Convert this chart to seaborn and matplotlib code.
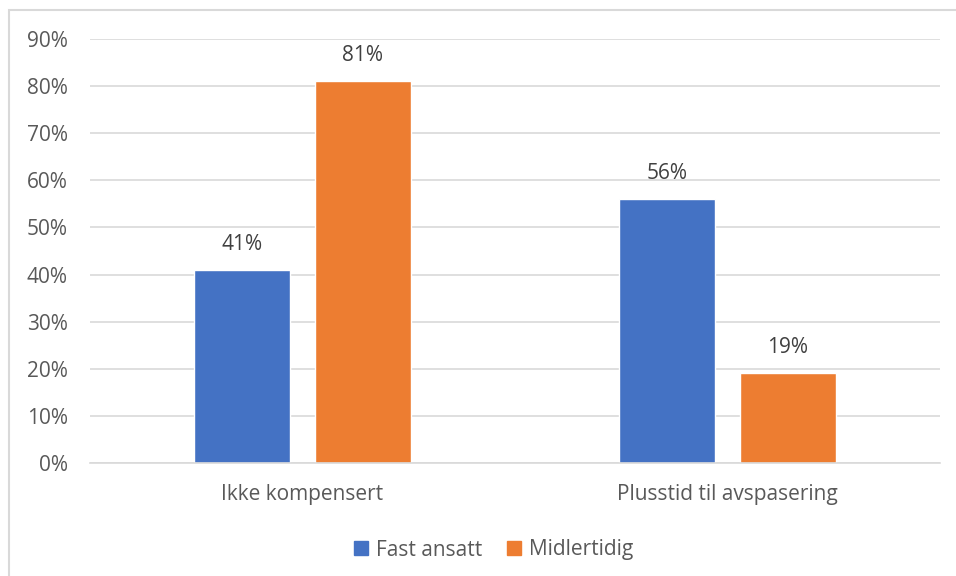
import matplotlib
matplotlib.use("Agg")
import matplotlib.pyplot as plt
from matplotlib.patches import Rectangle
from matplotlib.lines import Line2D
import seaborn as sns
import pandas as pd

categories = ["Ikke kompensert", "Plusstid til avspasering"]
series = ["Fast ansatt", "Midlertidig"]
fast_ansatt = [0.41, 0.56]
midlertidig = [0.81, 0.19]
yticks = [0.0, 0.1, 0.2, 0.3, 0.4, 0.5, 0.6, 0.7, 0.8, 0.9]
colors = ["#4472C4", "#ED7D31"]

df = pd.DataFrame({
    "kategori": categories * 2,
    "gruppe": [series[0]] * len(categories) + [series[1]] * len(categories),
    "andel": fast_ansatt + midlertidig,
})

sns.set_theme(style="white")
plt.rcParams["font.family"] = ["Open Sans", "DejaVu Sans"]

fig = plt.figure(figsize=(9.56, 5.76), dpi=100)
ax = fig.add_axes([90 / 956, 1 - 463 / 576, 850 / 956, 424 / 576])

sns.barplot(data=df, x="kategori", y="andel", hue="gruppe", order=categories,
            hue_order=series, palette=colors, width=0.567, gap=0.203,
            saturation=1, ax=ax, legend=False)

ax.set_ylim(0, 0.9)
ax.set_xlim(-0.5, 1.5)
ax.set_yticks(yticks)
ax.set_yticklabels([f"{int(round(t * 100))}%" for t in yticks])
ax.yaxis.grid(True, color="#D9D9D9", linewidth=1.2)
ax.set_axisbelow(True)
for s in ["top", "right", "left"]:
    ax.spines[s].set_visible(False)
ax.spines["bottom"].set_color("#D9D9D9")
ax.spines["bottom"].set_linewidth(1.2)
ax.tick_params(axis="both", length=0, labelsize=15, colors="#595959")
ax.tick_params(axis="y", pad=16)
ax.tick_params(axis="x", pad=15)
ax.set_xlabel("")
ax.set_ylabel("")

for cont in ax.containers:
    ax.bar_label(cont, labels=[f"{v * 100:.0f}%" for v in cont.datavalues],
                 padding=11, fontsize=15, color="#404040")

handles = [Line2D([], [], marker="s", linestyle="", markersize=9.5,
                  markerfacecolor=c, markeredgecolor=c) for c in colors]
fig.legend(handles, series, loc="center", bbox_to_anchor=(492 / 956, 1 - 550 / 576),
           ncol=2, frameon=False, fontsize=15, labelcolor="#595959",
           handletextpad=0.25, columnspacing=1.0, handlelength=1.0)

# light frame around the chart area
fig.add_artist(Rectangle((9 / 956, -0.1), 1.2, 1 - 10 / 576 + 0.1,
                         transform=fig.transFigure, fill=False,
                         edgecolor="#D9D9D9", linewidth=1.5))

fig.savefig("out.png", dpi=100, facecolor="white")
